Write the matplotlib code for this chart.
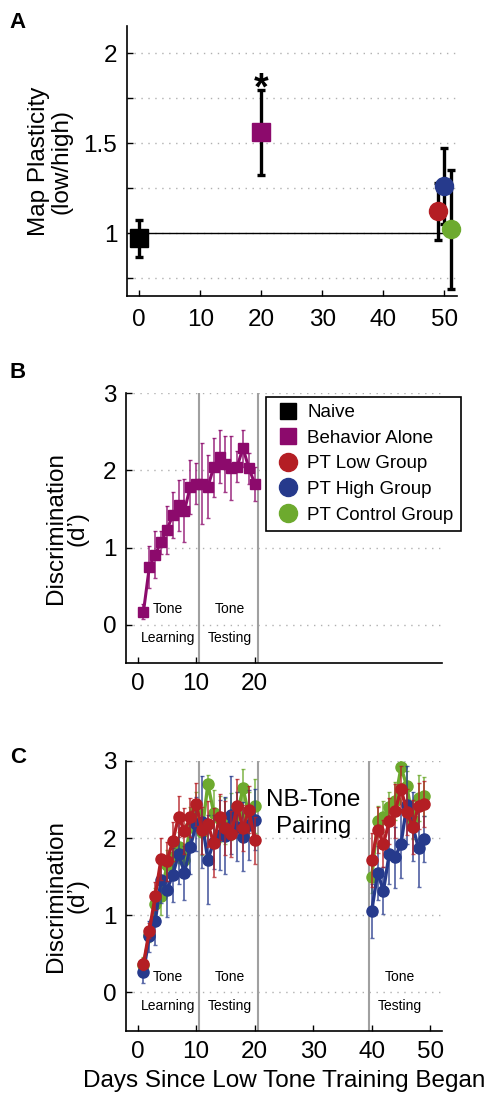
import numpy as np
import matplotlib
matplotlib.use('Agg')
import matplotlib.pyplot as plt
from matplotlib.lines import Line2D

plt.rcParams['font.family'] = ['Liberation Sans', 'DejaVu Sans']

# colours of the groups
c_naive = 'black'
c_beh = '#8C0A6C'
c_low = '#B41E24'
c_high = '#263A8C'
c_ctrl = '#6DAA2E'

# panel A: map plasticity
a_names = ['Naive', 'Behavior Alone', 'PT Low Group', 'PT High Group', 'PT Control Group']
a_days = [0, 20, 49, 50, 51]
a_vals = [0.97, 1.56, 1.12, 1.26, 1.02]
a_err = [0.105, 0.236, 0.16, 0.21, 0.33]

# panel B: behavior alone discrimination
b_days = list(range(1, 21))
b_vals = [0.17, 0.75, 0.91, 1.07, 1.23, 1.42, 1.55, 1.48, 1.79, 1.83,
          1.83, 1.79, 2.04, 2.18, 2.08, 2.03, 2.05, 2.29, 2.03, 1.83]
b_err = [0.1, 0.27, 0.31, 0.15, 0.31, 0.3, 0.33, 0.41, 0.35, 0.27,
         0.52, 0.41, 0.38, 0.34, 0.36, 0.41, 0.2, 0.24, 0.2, 0.22]

# panel C: pairing groups, days 1-20 and 40-49
c_days1 = list(range(1, 21))
c_days2 = list(range(40, 50))

low_vals1 = [0.37, 0.80, 1.25, 1.73, 1.70, 1.96, 2.28, 2.09, 2.27, 2.44,
             2.10, 2.18, 1.94, 2.27, 2.13, 2.05, 2.42, 2.13, 2.37, 1.97]
low_err1 = [0.08, 0.1, 0.18, 0.27, 0.25, 0.25, 0.27, 0.3, 0.25, 0.28,
            0.3, 0.3, 0.45, 0.3, 0.35, 0.3, 0.35, 0.3, 0.3, 0.3]
low_vals2 = [1.72, 2.11, 1.93, 2.22, 2.35, 2.64, 2.34, 2.14, 2.42, 2.44]
low_err2 = [0.35, 0.3, 0.3, 0.3, 0.35, 0.3, 0.3, 0.35, 0.3, 0.3]

high_vals1 = [0.27, 0.73, 0.92, 1.46, 1.33, 1.52, 1.80, 1.55, 1.89, 2.18,
              2.21, 1.72, 1.95, 2.04, 2.03, 2.30, 2.15, 2.02, 2.17, 2.24]
high_err1 = [0.15, 0.2, 0.3, 0.3, 0.35, 0.35, 0.4, 0.35, 0.35, 0.35,
             0.6, 0.58, 0.35, 0.45, 0.5, 0.5, 0.45, 0.45, 0.45, 0.4]
high_vals2 = [1.06, 1.55, 1.32, 1.80, 1.75, 1.93, 2.43, 2.15, 1.87, 1.99]
high_err2 = [0.35, 0.35, 0.3, 0.4, 0.4, 0.45, 0.5, 0.45, 0.5, 0.3]

ctrl_vals1 = [0.36, 0.75, 1.15, 1.25, 1.65, 1.75, 1.88, 1.72, 2.15, 2.35,
              2.08, 2.70, 2.33, 2.25, 2.22, 2.28, 2.30, 2.65, 2.30, 2.42]
ctrl_err1 = [0.1, 0.1, 0.2, 0.25, 0.2, 0.2, 0.2, 0.2, 0.25, 0.25,
             0.3, 0.12, 0.3, 0.3, 0.3, 0.3, 0.3, 0.25, 0.3, 0.35]
ctrl_vals2 = [1.49, 2.22, 2.28, 2.40, 2.48, 2.92, 2.67, 2.24, 2.52, 2.54]
ctrl_err2 = [0.2, 0.2, 0.2, 0.2, 0.25, 0.1, 0.2, 0.25, 0.3, 0.25]

FS = 17.5
grid_style = dict(color='#b0b0b0', linestyle=(0, (1, 4)), linewidth=1)


def style_axes(ax, pad=7):
    for s in ['top', 'right']:
        ax.spines[s].set_visible(False)
    for s in ['left', 'bottom']:
        ax.spines[s].set_linewidth(1.2)
    ax.tick_params(direction='in', length=4, width=1, labelsize=FS, pad=pad)


fig = plt.figure(figsize=(4.9, 10.94), dpi=100)

# ---------------- panel A
axA = fig.add_axes([0.259, 0.7294, 0.673, 0.2468])
style_axes(axA)
axA.tick_params(axis='x', pad=9)
axA.set_xlim(-2, 52)
axA.set_ylim(0.65, 2.15)
axA.set_xticks([0, 10, 20, 30, 40, 50])
axA.set_yticks([0.75, 1, 1.25, 1.5, 1.75, 2])
axA.set_yticklabels(['', '1', '', '1.5', '', '2'])
axA.grid(axis='y', **grid_style)
axA.set_axisbelow(True)
axA.plot([0, 50], [1, 1], color='black', lw=1)

a_cols = [c_naive, c_beh, c_low, c_high, c_ctrl]
a_marks = ['s', 's', 'o', 'o', 'o']
for i in range(len(a_days)):
    eb = axA.errorbar(a_days[i], a_vals[i], yerr=a_err[i], fmt='none', ecolor='black',
                      elinewidth=2.4, capsize=3, capthick=2.4)
    for art in eb.lines[1] + eb.lines[2]:
        art.set_clip_on(False)
for i in range(len(a_days)):
    axA.plot(a_days[i], a_vals[i], marker=a_marks[i], color=a_cols[i],
             markersize=13, linestyle='none', clip_on=False, zorder=4)
axA.text(20, 1.80, '*', fontsize=27, ha='center', va='center', fontweight='bold')
axA.set_ylabel('Map Plasticity\n(low/high)', fontsize=FS, labelpad=8, linespacing=1.0)

# ---------------- panel B
axB = fig.add_axes([0.257, 0.3937, 0.645, 0.2468])
style_axes(axB)
axB.set_xlim(-2, 52)
axB.set_ylim(-0.5, 3)
axB.set_xticks([0, 10, 20])
axB.set_yticks([0, 1, 2, 3])
axB.grid(axis='y', **grid_style)
axB.set_axisbelow(True)
for xv in [10.5, 20.5]:
    axB.axvline(xv, color='#a0a0a0', lw=1.5)
axB.errorbar(b_days, b_vals, yerr=b_err, fmt='none', ecolor=c_beh, alpha=0.8,
             elinewidth=1.2, capsize=1.5)
axB.plot(b_days, b_vals, color=c_beh, lw=2.2, marker='s', markersize=6.5)
axB.set_ylabel('Discrimination\n(d\u2019)', fontsize=FS, labelpad=10, linespacing=1.0)

# ---------------- panel C
axC = fig.add_axes([0.257, 0.0576, 0.645, 0.2468])
style_axes(axC)
axC.set_xlim(-2, 52)
axC.set_ylim(-0.5, 3)
axC.set_xticks([0, 10, 20, 30, 40, 50])
axC.set_yticks([0, 1, 2, 3])
axC.grid(axis='y', **grid_style)
axC.set_axisbelow(True)
for xv in [10.5, 20.5, 39.5]:
    axC.axvline(xv, color='#a0a0a0', lw=1.5)

groups = [
    (c_ctrl, ctrl_vals1, ctrl_err1, ctrl_vals2, ctrl_err2),
    (c_high, high_vals1, high_err1, high_vals2, high_err2),
    (c_low, low_vals1, low_err1, low_vals2, low_err2),
]
for col, v1, e1, v2, e2 in groups:
    for d, v, e in [(c_days1, v1, e1), (c_days2, v2, e2)]:
        axC.errorbar(d, v, yerr=e, fmt='none', ecolor=col, alpha=0.75,
                     elinewidth=1.3, capsize=1.5)
        axC.plot(d, v, color=col, lw=2.4, marker='o', markersize=8)

axC.set_ylabel('Discrimination\n(d\u2019)', fontsize=FS, labelpad=10, linespacing=1.0)
axC.set_xlabel('Days Since Low Tone Training Began', fontsize=FS, labelpad=5)
axC.text(30, 2.49, 'NB-Tone', fontsize=FS, ha='center', va='center')
axC.text(30, 2.15, 'Pairing', fontsize=FS, ha='center', va='center')

# phase labels
for ax, spots in [(axB, [(5.2, 'Tone', 'Learning'), (15.7, 'Tone', 'Testing')]),
                  (axC, [(5.2, 'Tone', 'Learning'), (15.7, 'Tone', 'Testing'),
                         (44.8, 'Tone', 'Testing')])]:
    for x, t1, t2 in spots:
        ax.text(x, 0.2, t1, fontsize=10, ha='center', va='center')
        ax.text(x, -0.17, t2, fontsize=10, ha='center', va='center')

# legend in panel B
handles = []
for i in range(len(a_names)):
    handles.append(Line2D([], [], marker=a_marks[i], color=a_cols[i], linestyle='none',
                          markersize=11 if a_marks[i] == 's' else 13))
leg = fig.legend(handles, a_names, loc='upper right', bbox_to_anchor=(0.941, 0.6374),
                 fontsize=13.5, frameon=True, fancybox=False, edgecolor='black',
                 framealpha=1, borderaxespad=0, labelspacing=0.45, handletextpad=0.3,
                 handlelength=1.5, borderpad=0.4)
leg.get_frame().set_linewidth(1.2)

# panel letters
fig.text(0.02, 1 - 12 / 1094, 'A', fontsize=16, fontweight='bold', va='top')
fig.text(0.02, 1 - 362 / 1094, 'B', fontsize=16, fontweight='bold', va='top')
fig.text(0.02, 1 - 747 / 1094, 'C', fontsize=16, fontweight='bold', va='top')

fig.savefig('out.png', dpi=100)
